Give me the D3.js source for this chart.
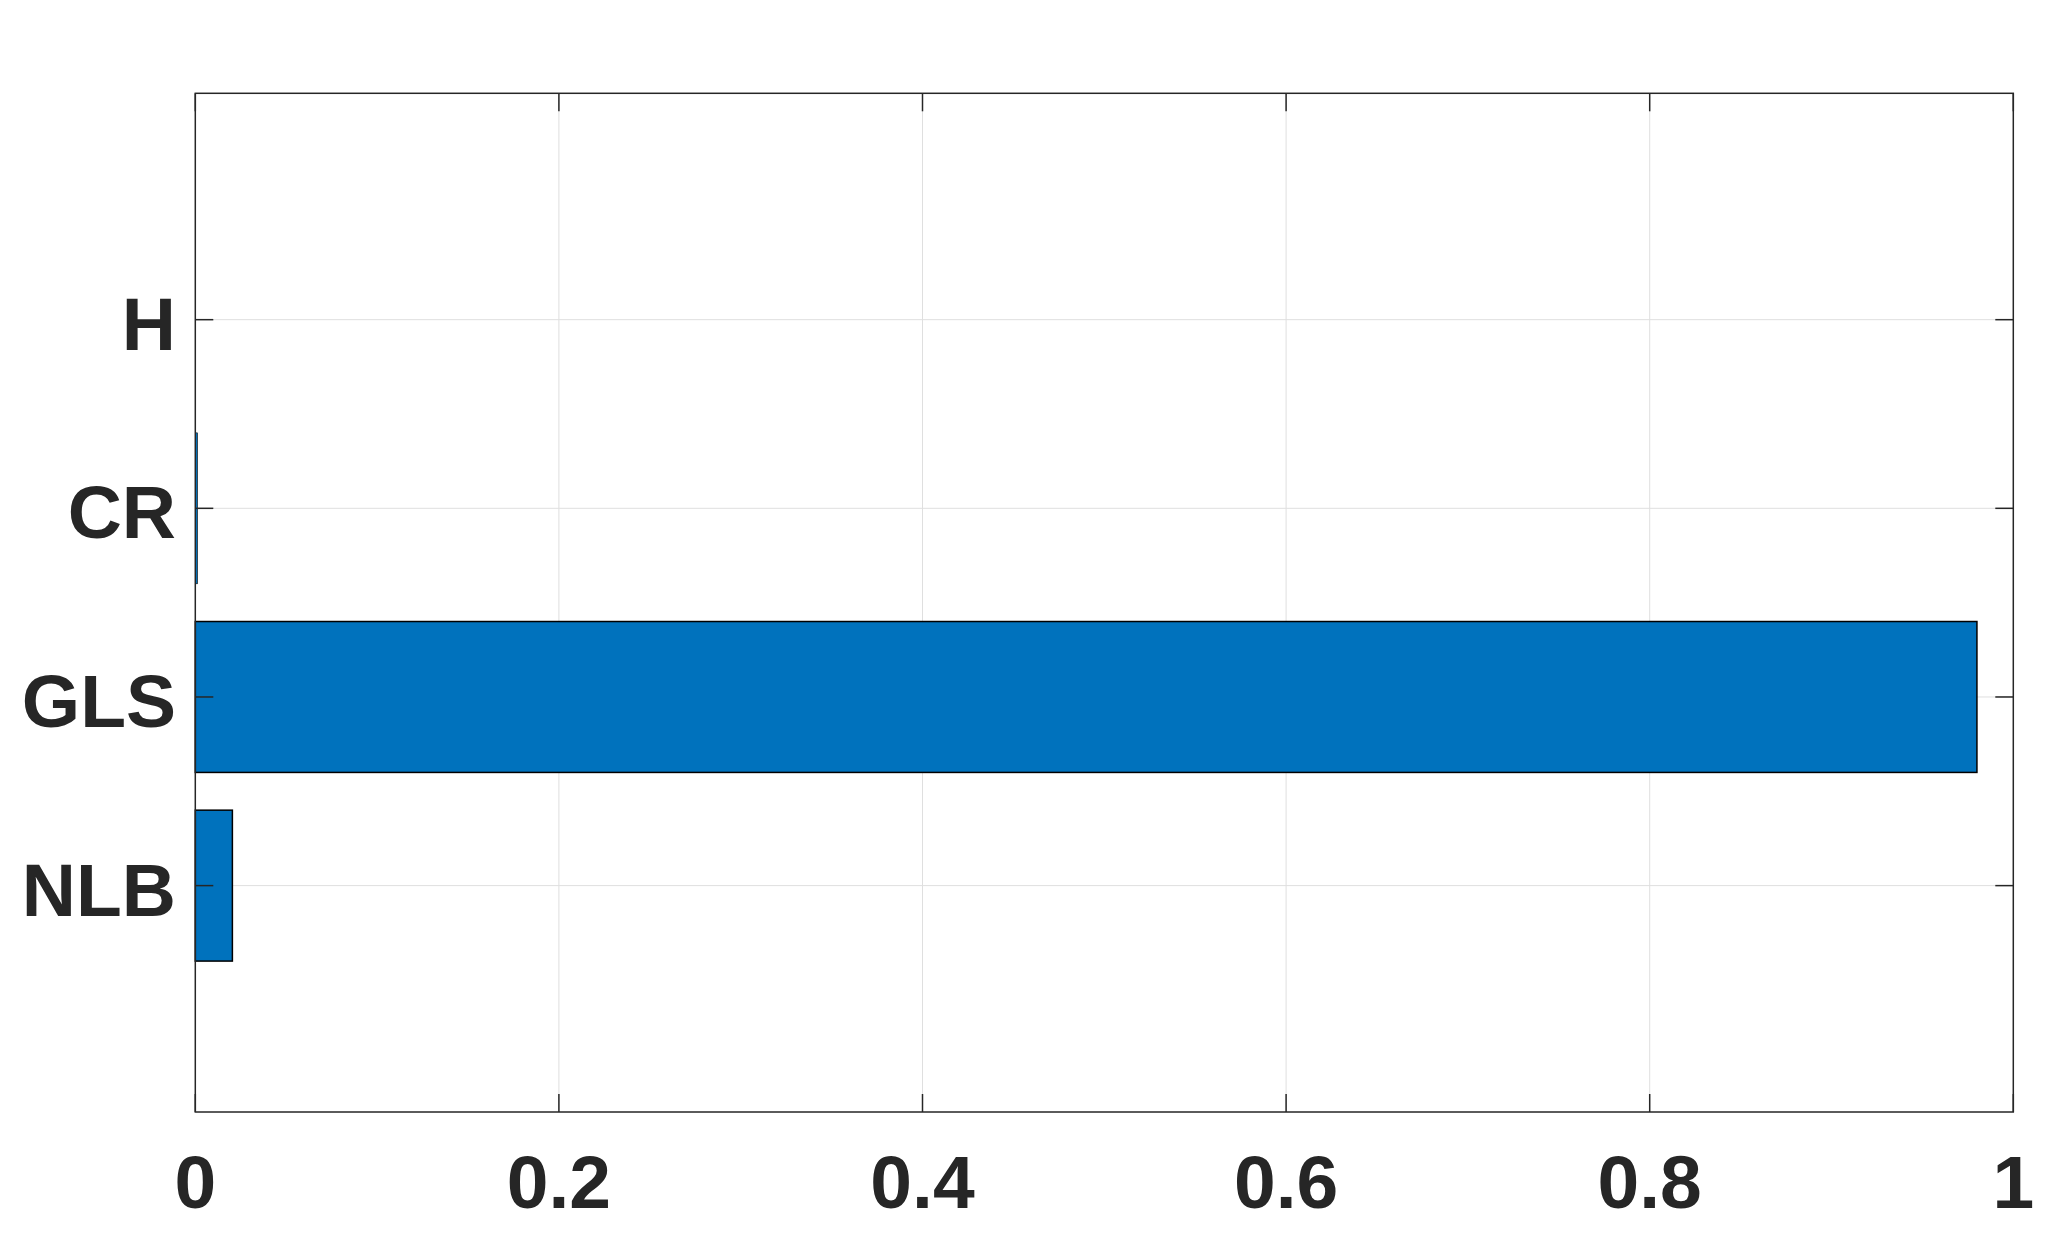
<!DOCTYPE html>
<html><head><meta charset="utf-8">
<script src="https://cdn.jsdelivr.net/npm/d3@7"></script>
<style>html,body{margin:0;padding:0;background:#fff;}svg{display:block;}</style>
</head><body>
<script>
const categories = ["NLB", "GLS", "CR", "H"];
const values = [0.0204, 0.980, 0.0012, 0];
const xTicks = [0, 0.2, 0.4, 0.6, 0.8, 1];
const xTickLabels = ["0", "0.2", "0.4", "0.6", "0.8", "1"];

const W = 2051, H = 1250;
const L = 195.3, R = 2013.3, T = 93.3, B = 1112;
const svg = d3.select("body").append("svg").attr("width", W).attr("height", H);

const x = d3.scaleLinear().domain([0, 1]).range([L, R]);
const y = d3.scaleLinear().domain([-1.2, categories.length - 1 + 1.2]).range([B, T]);
const barH = (y(0) - y(0.8));
const tickLen = 18;
const ink = "#262626";

// grid
svg.append("g").selectAll("line.gx").data(xTicks.slice(1, -1)).join("line")
  .attr("x1", d => x(d)).attr("x2", d => x(d)).attr("y1", T).attr("y2", B)
  .attr("stroke", "#dfdfdf").attr("stroke-width", 1);
svg.append("g").selectAll("line.gy").data(categories).join("line")
  .attr("x1", L).attr("x2", R).attr("y1", (d, i) => y(i)).attr("y2", (d, i) => y(i))
  .attr("stroke", "#dfdfdf").attr("stroke-width", 1);

// bars
svg.append("g").selectAll("rect").data(values).join("rect")
  .attr("x", x(0))
  .attr("y", (d, i) => y(i) - barH / 2)
  .attr("width", d => Math.max(0, x(d) - x(0)))
  .attr("height", barH)
  .attr("fill", "#0072BD")
  .attr("stroke", d => d > 0 ? "#000" : "none")
  .attr("stroke-width", d => d < 0.005 ? 0.6 : 1.5);

// ticks
const tg = svg.append("g").attr("stroke", ink).attr("stroke-width", 1.5);
categories.forEach((c, i) => {
  tg.append("line").attr("x1", L).attr("x2", L + tickLen).attr("y1", y(i)).attr("y2", y(i));
  tg.append("line").attr("x1", R).attr("x2", R - tickLen).attr("y1", y(i)).attr("y2", y(i));
});
xTicks.forEach(t => {
  tg.append("line").attr("x1", x(t)).attr("x2", x(t)).attr("y1", B).attr("y2", B - tickLen);
  tg.append("line").attr("x1", x(t)).attr("x2", x(t)).attr("y1", T).attr("y2", T + tickLen);
});

// box
svg.append("rect").attr("x", L).attr("y", T).attr("width", R - L).attr("height", B - T)
  .attr("fill", "none").attr("stroke", ink).attr("stroke-width", 1.5);

// labels
const font = "'Liberation Sans', Arial, sans-serif";
svg.append("g").selectAll("text").data(xTicks).join("text")
  .attr("x", d => x(d)).attr("y", 1208)
  .attr("text-anchor", "middle")
  .attr("font-family", font).attr("font-weight", "bold").attr("font-size", 75)
  .attr("fill", ink)
  .text((d, i) => xTickLabels[i]);
svg.append("g").selectAll("text").data(categories).join("text")
  .attr("x", 176).attr("y", (d, i) => y(i) + 30)
  .attr("text-anchor", "end")
  .attr("font-family", font).attr("font-weight", "bold").attr("font-size", 75)
  .attr("fill", ink)
  .text(d => d);
</script>
</body></html>
